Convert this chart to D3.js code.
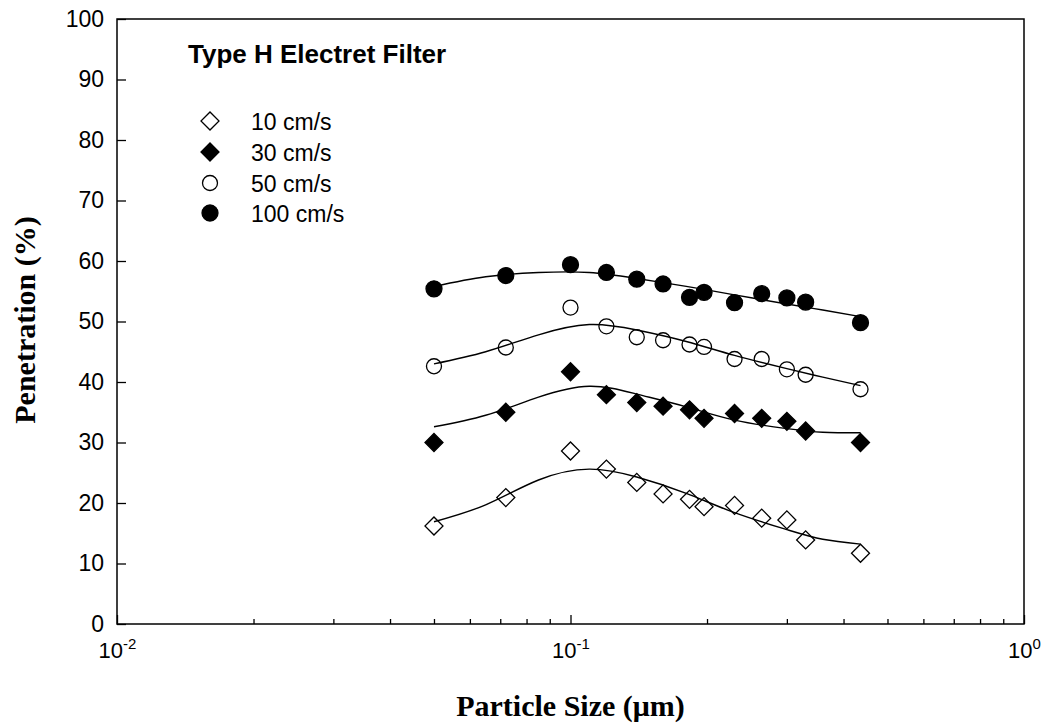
<!DOCTYPE html>
<html>
<head>
<meta charset="utf-8">
<script src="https://cdn.jsdelivr.net/npm/d3@7"></script>
<style>
    body { margin: 0; background: #fff; }
    .tick text { font-family: "Liberation Sans", Arial, sans-serif; fill: #000; }
    .axisTitle { font-family: "Liberation Serif", "Times New Roman", serif; font-weight: bold; font-size: 30px; }
</style>
</head>
<body>
<div id="chart"></div>
<script>
// Particle sizes (um) where penetration was measured
var sizes = [0.05, 0.072, 0.1, 0.12, 0.14, 0.16, 0.183, 0.197, 0.23, 0.264, 0.3, 0.33, 0.436];

// Measured penetration (%) for each face velocity
var p10 = [16.2, 20.9, 28.6, 25.6, 23.4, 21.5, 20.6, 19.4, 19.6, 17.5, 17.2, 13.9, 11.7];
var p30 = [30.0, 35.0, 41.7, 37.9, 36.6, 36.0, 35.4, 34.0, 34.8, 34.0, 33.5, 31.9, 30.0];
var p50 = [42.6, 45.7, 52.3, 49.2, 47.4, 46.9, 46.2, 45.8, 43.8, 43.8, 42.1, 41.2, 38.8];
var p100 = [55.4, 57.6, 59.4, 58.1, 57.0, 56.2, 54.0, 54.8, 53.1, 54.6, 53.9, 53.2, 49.8];

// Fitted curves
var fitSizes = [0.05, 0.065, 0.085, 0.11, 0.14, 0.18, 0.23, 0.3, 0.36, 0.436];
var fit10 = [16.9, 19.7, 23.8, 25.6, 24.3, 21.6, 18.4, 15.6, 14.0, 13.2];
var fit30 = [32.6, 34.5, 37.5, 39.3, 38.0, 35.9, 33.7, 32.3, 31.7, 31.6];
var fit50 = [43.0, 45.0, 47.8, 49.5, 48.6, 46.7, 44.4, 42.2, 40.8, 39.4];
var fit100 = [55.8, 57.4, 58.1, 58.1, 57.1, 55.8, 54.4, 52.9, 51.9, 50.8];

var seriesNames = ["10 cm/s", "30 cm/s", "50 cm/s", "100 cm/s"];
var yTicks = [0, 10, 20, 30, 40, 50, 60, 70, 80, 90, 100];
var xMajor = [0.01, 0.1, 1];
var xMajorExp = ["-2", "-1", "0"];

var width = 1046, height = 728;
var plotLeft = 117, plotRight = 1024, plotTop = 19, plotBottom = 624;

var svg = d3.select("#chart").append("svg")
    .attr("width", width)
    .attr("height", height);

var x = d3.scaleLog().domain([0.01, 1]).range([plotLeft, plotRight]);
var y = d3.scaleLinear().domain([0, 100]).range([plotBottom, plotTop]);

// marker styles per series: diamond open, diamond filled, circle open, circle filled
var shapes = [
    { type: d3.symbolSquare, size: 162, rot: 45, fill: "none" },
    { type: d3.symbolSquare, size: 162, rot: 45, fill: "#000" },
    { type: d3.symbolCircle, size: 177, rot: 0, fill: "none" },
    { type: d3.symbolCircle, size: 200, rot: 0, fill: "#000" }
];
var points = [p10, p30, p50, p100];
var fits = [fit10, fit30, fit50, fit100];

// Frame
svg.append("rect")
    .attr("x", plotLeft).attr("y", plotTop)
    .attr("width", plotRight - plotLeft).attr("height", plotBottom - plotTop)
    .attr("fill", "none").attr("stroke", "#000").attr("stroke-width", 1.5);

// Y axis, ticks pointing inward
var yAxis = svg.append("g")
    .attr("transform", "translate(" + plotLeft + ",0)")
    .call(d3.axisLeft(y).tickValues(yTicks).tickSize(-9).tickPadding(13));
yAxis.select(".domain").remove();
yAxis.selectAll(".tick line").attr("stroke-width", 1.3);
yAxis.selectAll(".tick text").style("font-size", "23px");

// X axis minor ticks
var xMinor = [];
[0.01, 0.1].forEach(function(dec) {
    for (var i = 2; i <= 9; i++) xMinor.push(dec * i);
});
var xMinorAxis = svg.append("g")
    .attr("transform", "translate(0," + plotBottom + ")")
    .call(d3.axisBottom(x).tickValues(xMinor).tickSize(-5).tickFormat(""));
xMinorAxis.select(".domain").remove();
xMinorAxis.selectAll(".tick line").attr("stroke-width", 1.3);

// X axis major ticks with power-of-ten labels
var xAxis = svg.append("g")
    .attr("transform", "translate(0," + plotBottom + ")")
    .call(d3.axisBottom(x).tickValues(xMajor).tickSize(-9).tickFormat(""));
xAxis.select(".domain").remove();
xAxis.selectAll(".tick line").attr("stroke-width", 1.3);
xAxis.selectAll(".tick").each(function(d, i) {
    var t = d3.select(this).append("text")
        .attr("y", 34)
        .attr("fill", "#000")
        .attr("text-anchor", "middle")
        .style("font-size", "22px");
    t.append("tspan").text("10");
    t.append("tspan").attr("dy", -9).style("font-size", "15px").text(xMajorExp[i]);
});

// Fitted curves
var line = d3.line()
    .x(function(d) { return x(d[0]); })
    .y(function(d) { return y(d[1]); })
    .curve(d3.curveNatural);

fits.forEach(function(f) {
    svg.append("path")
        .datum(fitSizes.map(function(s, i) { return [s, f[i]]; }))
        .attr("d", line)
        .attr("fill", "none")
        .attr("stroke", "#000")
        .attr("stroke-width", 1.4);
});

// Data markers
points.forEach(function(p, k) {
    var sh = shapes[k];
    svg.selectAll(".pt" + k)
        .data(sizes.map(function(s, i) { return [s, p[i]]; }))
        .enter()
        .append("path")
        .attr("class", "pt" + k)
        .attr("d", d3.symbol().type(sh.type).size(sh.size))
        .attr("transform", function(d) {
            return "translate(" + x(d[0]) + "," + y(d[1]) + ") rotate(" + sh.rot + ")";
        })
        .attr("fill", sh.fill)
        .attr("stroke", "#000")
        .attr("stroke-width", 1.3);
});

// Title inside plot
svg.append("text")
    .attr("x", 188).attr("y", 63)
    .style("font-family", "'Liberation Sans', Arial, sans-serif")
    .style("font-weight", "bold")
    .style("font-size", "26px")
    .text("Type H Electret Filter");

// Legend
var legendY = [121, 152, 183, 213];
seriesNames.forEach(function(name, k) {
    var sh = shapes[k];
    svg.append("path")
        .attr("d", d3.symbol().type(sh.type).size(sh.size))
        .attr("transform", "translate(210," + legendY[k] + ") rotate(" + sh.rot + ")")
        .attr("fill", sh.fill)
        .attr("stroke", "#000")
        .attr("stroke-width", 1.3);
    svg.append("text")
        .attr("x", 251).attr("y", legendY[k] + 9)
        .style("font-family", "'Liberation Sans', Arial, sans-serif")
        .style("font-size", "23px")
        .text(name);
});

// Axis titles
svg.append("text")
    .attr("class", "axisTitle")
    .attr("x", (plotLeft + plotRight) / 2)
    .attr("y", 716)
    .attr("text-anchor", "middle")
    .text("Particle Size (\u03bcm)");

svg.append("text")
    .attr("class", "axisTitle")
    .attr("transform", "translate(35,320) rotate(-90)")
    .attr("text-anchor", "middle")
    .text("Penetration (%)");
</script>
</body>
</html>
